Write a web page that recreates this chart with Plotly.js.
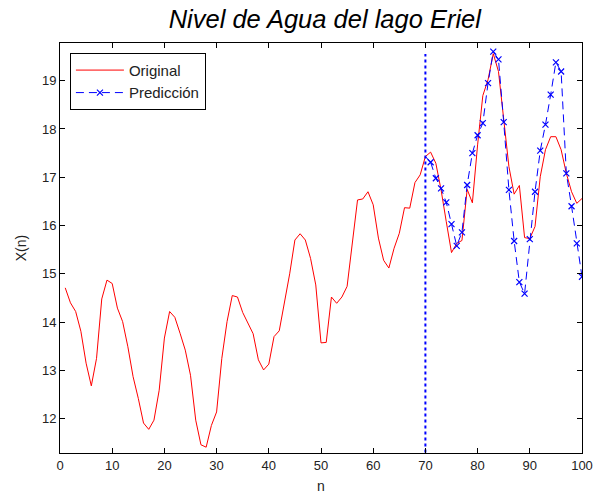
<!DOCTYPE html>
<html>
<head>
<meta charset="utf-8">
<script src="https://cdn.plot.ly/plotly-3.0.1.min.js"></script>
<style>html,body{margin:0;padding:0;background:#fff;}#chart{width:596px;height:495px;}</style>
</head>
<body>
<div id="chart"></div>
<script>
// Original series
var nOriginal = [1,2,3,4,5,6,7,8,9,10,11,12,13,14,15,16,17,18,19,20,21,22,23,24,25,26,27,28,29,30,31,32,33,34,35,36,37,38,39,40,41,42,43,44,45,46,47,48,49,50,51,52,53,54,55,56,57,58,59,60,61,62,63,64,65,66,67,68,69,70,71,72,73,74,75,76,77,78,79,80,81,82,83,84,85,86,87,88,89,90,91,92,93,94,95,96,97,98,99,100];
var xOriginal = [14.71,14.40,14.22,13.81,13.15,12.68,13.25,14.48,14.87,14.80,
  14.29,14.01,13.49,12.87,12.42,11.91,11.78,11.97,12.59,13.67,
  14.22,14.10,13.77,13.42,12.90,11.97,11.46,11.41,11.86,12.14,
  13.25,14.01,14.55,14.52,14.20,13.98,13.76,13.22,13.01,13.13,
  13.70,13.82,14.38,15.00,15.70,15.83,15.70,15.32,14.77,13.57,
  13.58,14.52,14.39,14.52,14.74,15.63,16.53,16.55,16.70,16.43,
  15.74,15.28,15.12,15.53,15.84,16.37,16.36,16.89,17.05,17.43,
  17.52,17.29,16.74,16.08,15.44,15.63,15.69,16.75,16.47,17.67,
  18.69,19.02,19.56,19.19,18.26,17.22,16.65,16.83,15.75,15.73,
  15.98,17.01,17.57,17.84,17.84,17.57,17.08,16.70,16.46,16.56];
// Prediction series (line starts at the split point, markers from n = 71)
var nPred = [70,71,72,73,74,75,76,77,78,79,80,81,82,83,84,85,86,87,88,89,90,91,92,93,94,95,96,97,98,99,100];
var xPred = [17.43,17.31,16.98,16.77,16.48,16.03,15.58,15.86,16.84,17.50,
  17.87,18.12,18.95,19.60,19.44,18.14,16.74,15.68,14.83,14.59,
  15.72,16.70,17.55,18.09,18.71,19.38,19.19,17.08,16.40,15.63,14.94];
// Split marker (vertical line)
var splitN = [70,70];
var splitY = [11.3,19.55];
var xTicks = [0,10,20,30,40,50,60,70,80,90,100];
var yTicks = [12,13,14,15,16,17,18,19];

var font = 'Liberation Sans, Arial, sans-serif';
var traces = [
  {x:nOriginal, y:xOriginal, type:'scatter', mode:'lines', name:'Original',
   line:{color:'#ff0000', width:1}},
  // dashed connector from the split point (no marker, no legend)
  {x:nPred.slice(0,2), y:xPred.slice(0,2), type:'scatter', mode:'lines', showlegend:false,
   line:{color:'#0000ff', width:1, dash:'8px,5px'}},
  {x:nPred.slice(1), y:xPred.slice(1), type:'scatter', mode:'lines+markers', name:'Predicción',
   line:{color:'#0000ff', width:1, dash:'8px,5px'},
   marker:{symbol:'x-thin', size:6, color:'#0000ff', line:{color:'#0000ff', width:1.2}}},
  {x:splitN, y:splitY, type:'scatter', mode:'lines', showlegend:false,
   line:{color:'#0000ff', width:2, dash:'dot'}}
];
var layout = {
  width:596, height:495,
  margin:{l:60, r:14, t:43, b:42},
  paper_bgcolor:'#fff', plot_bgcolor:'#fff',
  font:{family:font, size:13, color:'#222'},
  title:{text:'<i>Nivel de Agua del lago Eriel</i>', font:{family:font, size:25.5, color:'#000'}, x:0.545, xanchor:'center', y:0.962, yanchor:'middle'},
  xaxis:{range:[0,100], tickvals:xTicks, ticks:'inside', ticklen:5, tickcolor:'#000', mirror:'ticks',
    showline:true, linecolor:'#000', linewidth:1, showgrid:false, zeroline:false,
    title:{text:'n', font:{size:14, color:'#222'}, standoff:9}, tickfont:{size:13, color:'#222'}},
  yaxis:{range:[11.29,19.78], tickvals:yTicks, ticks:'inside', ticklen:5, tickcolor:'#000', mirror:'ticks',
    showline:true, linecolor:'#000', linewidth:1, showgrid:false, zeroline:false,
    title:{text:'X(n)', font:{size:14, color:'#222'}, standoff:12}, tickfont:{size:13, color:'#222'}},
  legend:{x:0.019, y:0.976, xanchor:'left', yanchor:'top', bgcolor:'#fff', bordercolor:'#000', borderwidth:1,
    font:{size:15, color:'#222'}, tracegroupgap:0, itemwidth:48},
  showlegend:true
};
Plotly.newPlot('chart', traces, layout, {displayModeBar:false, staticPlot:true});
</script>
</body>
</html>
